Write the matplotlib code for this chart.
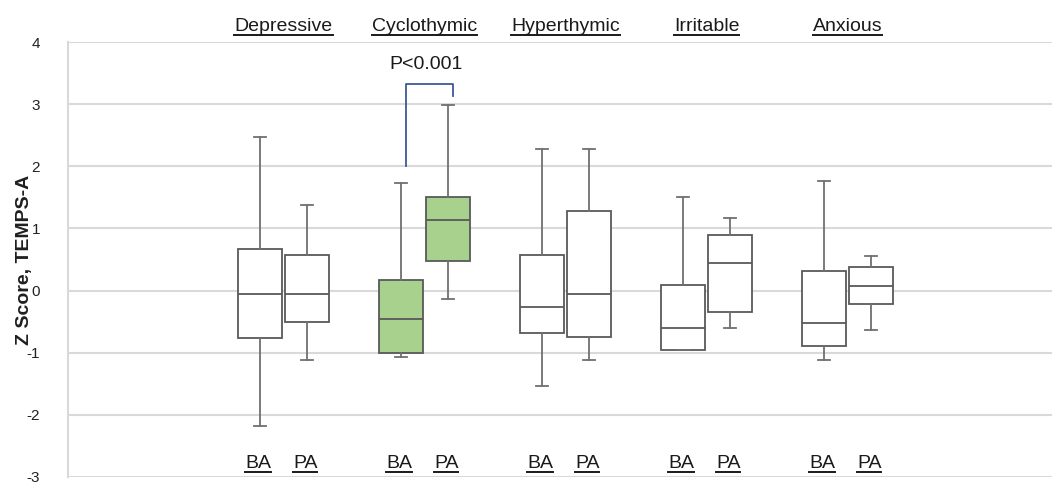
import matplotlib
matplotlib.use("Agg")
import matplotlib.pyplot as plt
from matplotlib.lines import Line2D

plt.rcParams['font.family'] = ['Liberation Sans', 'DejaVu Sans']

groups = ['Depressive', 'Cyclothymic', 'Hyperthymic', 'Irritable', 'Anxious']
sub_labels = ['BA', 'PA']

ba_whislo = [-2.18, -1.07, -1.54, -0.95, -1.12]
ba_q1 = [-0.77, -1.00, -0.69, -0.95, -0.89]
ba_med = [-0.05, -0.46, -0.26, -0.60, -0.52]
ba_q3 = [0.67, 0.17, 0.58, 0.09, 0.31]
ba_whishi = [2.47, 1.73, 2.28, 1.50, 1.76]

pa_whislo = [-1.12, -0.14, -1.12, -0.60, -0.64]
pa_q1 = [-0.50, 0.48, -0.75, -0.34, -0.21]
pa_med = [-0.05, 1.13, -0.05, 0.44, 0.07]
pa_q3 = [0.58, 1.50, 1.28, 0.90, 0.38]
pa_whishi = [1.38, 2.98, 2.28, 1.16, 0.56]

highlight_group = 'Cyclothymic'
p_text = 'P<0.001'
yticks = [-3, -2, -1, 0, 1, 2, 3, 4]

fig = plt.figure(figsize=(10.52, 4.82), dpi=100)
ax = fig.add_axes([68/1052, 5/482, 1 - 68/1052, (477-42)/482])

stats, positions, fills = [], [], []
for i, g in enumerate(groups):
    for j, (lo, q1, md, q3, hi) in enumerate([
            (ba_whislo[i], ba_q1[i], ba_med[i], ba_q3[i], ba_whishi[i]),
            (pa_whislo[i], pa_q1[i], pa_med[i], pa_q3[i], pa_whishi[i])]):
        stats.append(dict(whislo=lo, q1=q1, med=md, q3=q3, whishi=hi, fliers=[]))
        positions.append(i * 3 + j)
        fills.append('#A9D18E' if g == highlight_group else 'white')

edge = '#595959'
bp = ax.bxp(stats, positions=positions, widths=0.92, patch_artist=True,
            showfliers=False, capwidths=0.26,
            boxprops=dict(edgecolor=edge, linewidth=1.3),
            medianprops=dict(color=edge, linewidth=1.3),
            whiskerprops=dict(color='#707070', linewidth=1.3),
            capprops=dict(color='#707070', linewidth=1.3))
for patch, fc in zip(bp['boxes'], fills):
    patch.set_facecolor(fc)
for art in bp['boxes'] + bp['medians'] + bp['whiskers'] + bp['caps']:
    art.set_zorder(3)

ax.set_ylim(-3, 4)
ax.set_xlim(-4.085, 16.85)
ax.set_yticks(yticks)
ax.set_yticklabels([str(t) for t in yticks])
ax.set_xticks([])
ax.yaxis.grid(True, color='#D9D9D9', linewidth=1.5, zorder=0)
ax.set_axisbelow(True)
for s in ['top', 'right', 'bottom']:
    ax.spines[s].set_visible(False)
ax.spines['left'].set_color('#D9D9D9')
ax.spines['left'].set_linewidth(1.5)
ax.tick_params(axis='y', length=0, pad=20, labelsize=11, labelcolor='#222222')
ax.set_ylabel('Z Score, TEMPS-A', fontsize=14, fontweight='bold',
              color='#1f1f1f')
ax.yaxis.set_label_coords(-0.036, 0.5)

# group labels (top) and BA/PA labels (bottom)
texts = []
for i, g in enumerate(groups):
    t = ax.text(i * 3 + 0.5, 4.17, g, ha='center', va='baseline', fontsize=14,
                color='#1a1a1a')
    texts.append(t)
    for j, s in enumerate(sub_labels):
        t2 = ax.text(i * 3 + j - 0.04, -2.86, s, ha='center', va='baseline',
                     fontsize=14, color='#1a1a1a')
        texts.append(t2)

# significance bracket
hi_idx = groups.index(highlight_group)
bx0, bx1 = hi_idx * 3 + 0.1, hi_idx * 3 + 1.1
ax.plot([bx0, bx0, bx1, bx1], [2.0, 3.33, 3.33, 3.13], color='#3B5998',
        linewidth=1.3, zorder=4, clip_on=False)
ax.text(hi_idx * 3 + 0.53, 3.64, p_text, ha='center', va='center', fontsize=14,
        color='#1a1a1a')

# underline texts
fig.canvas.draw()
renderer = fig.canvas.get_renderer()
W, H = fig.get_size_inches() * fig.dpi
for t in texts:
    bb = t.get_window_extent(renderer)
    base = ax.transData.transform((0, t.get_position()[1]))[1]
    yline = (base - 3.5) / H
    fig.add_artist(Line2D([bb.x0 / W, bb.x1 / W], [yline, yline],
                          transform=fig.transFigure, color='#1a1a1a',
                          linewidth=1.4))

fig.savefig('out.png', dpi=100)
